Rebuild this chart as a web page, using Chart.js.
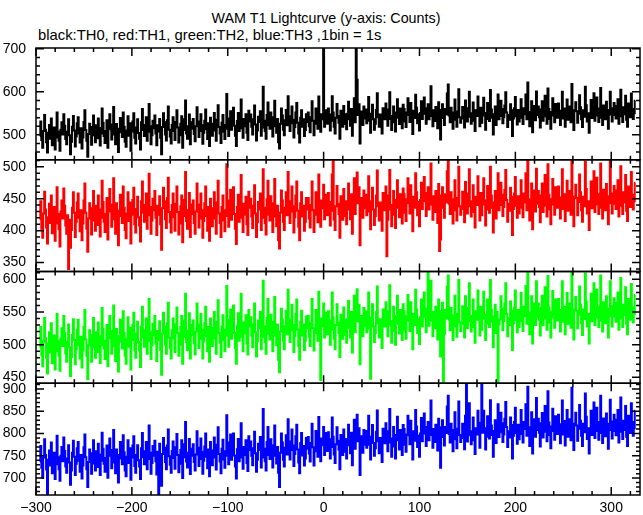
<!DOCTYPE html>
<html lang="en">
<head>
    <meta charset="UTF-8">
    <title>WAM T1 Lightcurve</title>
    <script src="https://cdn.jsdelivr.net/npm/chart.js"></script>
    <style>
        body {
            margin: 0;
            background: #fff;
        }

        .wrap {
            position: relative;
            width: 643px;
            height: 515px;
        }

        .title, .subtitle {
            position: absolute;
            font-family: "Liberation Sans", Arial, sans-serif;
            color: #000;
            white-space: nowrap;
            line-height: 1;
        }

        .title {
            left: 0;
            width: 652px;
            text-align: center;
            top: 11px;
            font-size: 14.3px;
        }

        .subtitle {
            left: 38px;
            top: 28px;
            font-size: 14.8px;
        }

        canvas {
            position: absolute;
            left: 0;
            top: 0;
        }
    </style>
</head>
<body>
    <div class="wrap">
        <div class="title">WAM T1 Lightcurve (y-axis: Counts)</div>
        <div class="subtitle">black:TH0, red:TH1, green:TH2, blue:TH3 ,1bin = 1s</div>
        <canvas id="lc" width="643" height="515"></canvas>
    </div>

    <script>
        // time of first bin (s), 1 bin = 1 s
        const tStart = -296;
        const binSize = 1;

        // TH0 (black) counts per bin
        const th0 = [
            497, 531, 488, 470, 509, 546, 512, 483, 459, 505, 523, 491, 538, 476, 501, 517, 466, 494, 552, 508,
            486, 463, 512, 529, 501, 548, 521, 490, 478, 507, 536, 499, 455, 484, 519, 544, 510, 473, 496, 527,
            541, 503, 482, 515, 468, 494, 530, 557, 511, 486, 449, 502, 526, 518, 477, 499, 545, 506, 483, 522,
            492, 538, 516, 475, 503, 561, 528, 497, 481, 509, 534, 470, 513, 548, 524, 489, 506, 565, 501, 478,
            525, 487, 460, 514, 539, 506, 495, 552, 519, 484, 472, 510, 543, 498, 527, 463, 508, 531, 550, 493,
            480, 517, 536, 504, 491, 466, 529, 560, 511, 497, 523, 541, 486, 507, 572, 520, 478, 499, 533, 515,
            545, 503, 476, 522, 508, 537, 493, 455, 518, 550, 529, 501, 487, 534, 566, 512, 496, 480, 523, 541,
            509, 488, 530, 557, 517, 482, 499, 526, 543, 470, 511, 536, 580, 503, 491, 520, 547, 478, 514, 529,
            537, 502, 485, 520, 564, 531, 495, 509, 548, 522, 479, 505, 533, 559, 513, 490, 527, 474, 540, 516,
            498, 526, 551, 510, 486, 535, 569, 518, 503, 481, 528, 546, 507, 490, 523, 595, 514, 497, 538, 555,
            512, 540, 563, 521, 498, 474, 532, 551, 509, 527, 582, 515, 493, 537, 520, 548, 505, 488, 556, 531,
            547, 519, 501, 536, 568, 524, 487, 510, 542, 530, 555, 498, 517, 612, 533, 509, 491, 546, 575, 522,
            514, 552, 529, 496, 541, 579, 520, 505, 537, 483, 468, 526, 561, 545, 512, 499, 534, 558, 522, 590,
            543, 509, 527, 566, 535, 494, 518, 552, 574, 528, 503, 482, 540, 557, 519, 536, 497, 511, 548, 530,
            552, 520, 506, 541, 578, 533, 499, 526, 561, 543, 514, 589, 530, 507, 548, 536, 745, 519, 557, 541,
            526, 561, 547, 510, 533, 590, 552, 519, 503, 540, 572, 544, 528, 491, 556, 534, 519, 567, 548, 525,
            513, 549, 577, 536, 521, 560, 498, 542, 585, 529, 740, 628, 546, 571, 480, 532, 554, 523, 566, 538,
            559, 527, 542, 588, 533, 505, 549, 570, 536, 512, 526, 558, 597, 541, 519, 547, 531, 503, 562, 550,
            536, 573, 548, 521, 559, 599, 537, 511, 544, 566, 529, 508, 552, 583, 540, 525, 561, 546, 515, 570,
            560, 531, 518, 552, 585, 546, 530, 574, 541, 502, 556, 539, 593, 563, 527, 548, 510, 551, 578, 537,
            549, 587, 562, 526, 540, 571, 536, 553, 613, 544, 520, 557, 532, 565, 547, 515, 576, 543, 489, 558,
            571, 539, 523, 560, 547, 596, 617, 545, 529, 563, 552, 514, 548, 582, 535, 519, 554, 606, 541, 528,
            538, 565, 553, 517, 580, 548, 531, 562, 600, 542, 526, 550, 575, 533, 509, 557, 544, 589, 561, 520,
            563, 528, 545, 586, 551, 512, 537, 574, 549, 532, 604, 559, 540, 501, 548, 566, 523, 555, 594, 536,
            544, 579, 560, 527, 541, 568, 599, 552, 518, 546, 535, 571, 557, 497, 538, 562, 588, 543, 524, 558,
            531, 554, 583, 540, 525, 562, 548, 594, 536, 622, 553, 520, 545, 578, 506, 550, 567, 534, 601, 546,
            566, 541, 517, 559, 578, 533, 550, 591, 543, 526, 608, 560, 537, 514, 553, 585, 545, 529, 572, 551,
            540, 573, 556, 523, 548, 600, 538, 561, 519, 547, 582, 535, 566, 552, 529, 618, 547, 511, 557, 576,
            555, 528, 549, 592, 564, 536, 518, 557, 542, 612, 569, 531, 550, 505, 546, 581, 539, 563, 597, 533,
            545, 587, 561, 530, 552, 609, 540, 523, 568, 551, 536, 577, 558, 514, 547, 600, 562, 531, 546, 574,
            567, 538, 552, 583, 526, 559, 605, 543, 530, 564, 548, 591, 535, 519, 573, 554, 541, 596, 560, 537,
            550, 579
        ];

        // TH1 (red)
        const th1 = [
            418, 446, 403, 389, 427, 461, 433, 405, 380, 421, 442, 412, 455, 396, 423, 437, 384, 411, 468, 426,
            402, 375, 430, 447, 419, 466, 439, 408, 395, 424, 340, 417, 373, 401, 436, 460, 428, 390, 414, 444,
            458, 420, 399, 432, 385, 411, 447, 474, 428, 403, 367, 419, 443, 435, 394, 416, 462, 423, 400, 439,
            409, 455, 433, 391, 420, 478, 445, 414, 398, 426, 451, 386, 430, 465, 441, 406, 423, 482, 418, 395,
            443, 404, 377, 431, 456, 423, 412, 469, 436, 401, 388, 427, 460, 415, 444, 380, 425, 448, 467, 410,
            397, 434, 453, 421, 408, 383, 446, 477, 428, 414, 440, 458, 403, 424, 489, 437, 395, 416, 450, 432,
            462, 420, 393, 439, 425, 454, 410, 370, 435, 467, 446, 418, 404, 451, 483, 429, 413, 397, 440, 458,
            421, 400, 442, 469, 429, 394, 411, 438, 455, 382, 423, 448, 492, 415, 403, 432, 459, 390, 426, 441,
            447, 412, 395, 430, 474, 441, 405, 419, 458, 432, 389, 415, 443, 469, 423, 400, 437, 384, 450, 426,
            407, 435, 460, 419, 395, 444, 478, 427, 412, 390, 437, 455, 416, 399, 432, 504, 423, 406, 447, 464,
            417, 445, 468, 426, 403, 379, 437, 456, 414, 432, 487, 420, 398, 442, 425, 453, 410, 393, 461, 436,
            450, 422, 404, 439, 471, 427, 390, 413, 445, 433, 458, 401, 420, 496, 436, 412, 394, 449, 478, 425,
            416, 454, 431, 398, 443, 481, 422, 407, 439, 385, 372, 428, 463, 447, 414, 401, 436, 460, 424, 492,
            446, 412, 430, 469, 438, 397, 421, 455, 477, 431, 406, 385, 443, 460, 422, 439, 400, 414, 451, 433,
            451, 419, 405, 440, 477, 432, 398, 425, 460, 442, 413, 488, 429, 406, 447, 435, 472, 418, 456, 440,
            424, 459, 445, 408, 431, 488, 511, 417, 401, 438, 470, 442, 426, 389, 454, 432, 417, 465, 446, 423,
            410, 446, 474, 433, 418, 457, 395, 439, 482, 426, 452, 491, 443, 468, 377, 429, 451, 420, 463, 435,
            456, 424, 439, 485, 430, 402, 446, 467, 433, 409, 423, 455, 494, 438, 416, 444, 428, 400, 459, 447,
            432, 469, 360, 417, 455, 495, 433, 407, 440, 462, 425, 404, 448, 479, 436, 421, 457, 442, 411, 466,
            457, 428, 415, 449, 482, 443, 427, 471, 438, 399, 453, 436, 490, 460, 424, 445, 407, 448, 475, 434,
            446, 484, 459, 423, 437, 468, 433, 450, 505, 441, 417, 454, 429, 462, 444, 412, 473, 368, 386, 455,
            468, 436, 420, 457, 444, 493, 509, 442, 426, 460, 449, 411, 445, 479, 432, 416, 451, 500, 438, 425,
            434, 461, 449, 413, 476, 444, 427, 458, 496, 438, 422, 446, 471, 429, 405, 453, 440, 485, 457, 416,
            459, 424, 441, 482, 447, 408, 433, 470, 445, 428, 500, 455, 436, 397, 444, 462, 419, 451, 490, 432,
            440, 475, 456, 423, 437, 464, 495, 448, 414, 442, 431, 467, 453, 393, 434, 458, 484, 439, 420, 454,
            427, 450, 479, 436, 421, 458, 444, 490, 432, 511, 449, 416, 441, 474, 402, 446, 463, 430, 497, 442,
            462, 437, 413, 455, 474, 429, 446, 487, 439, 422, 504, 456, 433, 410, 449, 481, 441, 425, 468, 447,
            436, 469, 452, 419, 444, 496, 434, 457, 415, 443, 478, 431, 462, 448, 425, 511, 443, 407, 453, 472,
            451, 424, 445, 488, 460, 432, 414, 453, 438, 508, 465, 427, 446, 401, 442, 477, 435, 459, 493, 429,
            441, 483, 457, 426, 448, 505, 436, 419, 464, 447, 432, 473, 454, 410, 443, 511, 458, 427, 442, 470,
            463, 434, 448, 479, 422, 455, 501, 439, 426, 460, 444, 487, 431, 415, 469, 450, 437, 492, 456, 433,
            446, 475
        ];

        // TH2 (green)
        const th2 = [
            496, 527, 484, 467, 505, 541, 510, 480, 456, 502, 519, 488, 533, 472, 498, 514, 462, 490, 547, 506,
            483, 460, 509, 525, 498, 544, 518, 487, 474, 504, 531, 496, 452, 481, 515, 539, 507, 470, 493, 523,
            538, 500, 479, 512, 465, 491, 527, 553, 508, 483, 447, 499, 522, 515, 474, 496, 541, 503, 480, 519,
            489, 534, 513, 472, 500, 556, 524, 494, 478, 506, 530, 467, 510, 544, 521, 486, 503, 560, 498, 475,
            524, 486, 459, 513, 538, 505, 494, 551, 518, 483, 471, 509, 542, 497, 526, 462, 507, 530, 549, 492,
            480, 517, 535, 504, 491, 466, 528, 558, 511, 497, 522, 540, 486, 506, 570, 519, 478, 499, 532, 514,
            544, 502, 475, 521, 507, 536, 492, 454, 517, 549, 528, 500, 486, 533, 564, 511, 495, 479, 522, 540,
            510, 489, 531, 557, 518, 483, 500, 527, 544, 471, 512, 537, 578, 504, 492, 521, 548, 479, 515, 530,
            537, 502, 485, 520, 563, 531, 495, 509, 547, 522, 479, 505, 533, 558, 513, 490, 527, 474, 540, 516,
            498, 526, 550, 510, 486, 535, 568, 518, 503, 481, 528, 545, 507, 490, 523, 590, 514, 497, 538, 554,
            509, 537, 560, 518, 495, 471, 529, 548, 506, 524, 578, 512, 490, 534, 517, 545, 502, 485, 553, 528,
            542, 514, 496, 531, 563, 519, 482, 505, 537, 525, 550, 493, 512, 598, 528, 504, 486, 541, 570, 517,
            508, 546, 523, 490, 535, 573, 514, 499, 531, 477, 458, 520, 555, 539, 506, 493, 528, 552, 516, 584,
            538, 504, 522, 561, 530, 489, 513, 547, 569, 523, 498, 477, 535, 552, 514, 531, 492, 506, 543, 525,
            544, 512, 498, 533, 570, 525, 491, 518, 553, 535, 506, 581, 522, 446, 540, 528, 563, 511, 549, 533,
            516, 551, 537, 500, 523, 580, 542, 509, 493, 530, 562, 534, 518, 481, 546, 524, 509, 557, 538, 515,
            503, 539, 567, 526, 511, 550, 488, 532, 575, 519, 546, 585, 536, 561, 470, 522, 544, 513, 556, 528,
            551, 519, 534, 580, 525, 448, 541, 562, 528, 504, 518, 550, 589, 533, 511, 539, 523, 495, 554, 542,
            528, 565, 540, 513, 551, 591, 529, 503, 536, 558, 521, 500, 544, 575, 532, 517, 553, 538, 507, 562,
            551, 522, 509, 543, 576, 537, 521, 565, 532, 493, 547, 530, 584, 554, 518, 539, 501, 542, 569, 528,
            542, 580, 555, 519, 533, 610, 529, 546, 598, 537, 513, 550, 525, 558, 540, 508, 569, 536, 482, 551,
            564, 443, 516, 553, 540, 589, 606, 538, 522, 556, 545, 507, 541, 575, 528, 512, 547, 599, 534, 521,
            532, 559, 547, 511, 574, 542, 525, 556, 594, 536, 520, 544, 569, 527, 503, 551, 538, 583, 555, 514,
            558, 523, 540, 581, 546, 507, 532, 569, 544, 527, 599, 554, 535, 496, 543, 561, 518, 550, 442, 531,
            539, 574, 555, 522, 536, 563, 594, 547, 513, 541, 530, 566, 552, 492, 533, 557, 583, 538, 519, 553,
            527, 550, 579, 536, 521, 558, 544, 590, 532, 612, 549, 516, 541, 574, 502, 546, 563, 530, 597, 542,
            563, 538, 514, 556, 575, 530, 547, 588, 540, 523, 605, 557, 534, 511, 550, 582, 542, 526, 569, 548,
            537, 570, 553, 520, 545, 597, 535, 558, 516, 544, 579, 532, 563, 549, 526, 611, 544, 508, 554, 573,
            552, 525, 546, 589, 561, 533, 515, 554, 539, 609, 566, 528, 547, 502, 543, 578, 536, 560, 594, 530,
            542, 584, 558, 527, 549, 606, 537, 520, 565, 548, 533, 574, 555, 511, 544, 597, 559, 528, 543, 571,
            564, 535, 549, 580, 523, 556, 602, 540, 527, 561, 545, 588, 532, 516, 570, 551, 538, 593, 557, 534,
            547, 576
        ];

        // TH3 (blue)
        const th3 = [
            737, 772, 723, 701, 746, 787, 752, 719, 664, 741, 762, 728, 780, 711, 739, 757, 698, 731, 795, 747,
            720, 694, 750, 770, 738, 791, 761, 726, 712, 744, 774, 735, 685, 717, 757, 784, 748, 707, 732, 767,
            781, 739, 714, 752, 699, 728, 769, 798, 747, 720, 680, 736, 764, 756, 710, 733, 785, 743, 717, 760,
            725, 777, 753, 707, 739, 802, 766, 732, 714, 745, 773, 701, 750, 789, 763, 722, 742, 808, 735, 711,
            764, 720, 690, 752, 781, 744, 731, 796, 758, 717, 704, 748, 785, 734, 767, 696, 746, 773, 794, 727,
            712, 752, 774, 740, 726, 698, 767, 801, 747, 731, 760, 781, 720, 743, 818, 757, 710, 734, 772, 750,
            784, 738, 708, 759, 663, 777, 727, 683, 754, 790, 768, 736, 720, 773, 809, 749, 730, 712, 761, 782,
            745, 721, 769, 799, 752, 713, 732, 763, 785, 700, 747, 776, 826, 737, 724, 757, 788, 709, 750, 766,
            776, 736, 717, 753, 805, 768, 727, 743, 789, 759, 710, 739, 771, 800, 748, 722, 764, 704, 781, 751,
            729, 762, 791, 746, 719, 775, 814, 754, 737, 711, 766, 786, 742, 723, 760, 841, 750, 731, 780, 798,
            741, 773, 800, 751, 726, 699, 765, 788, 738, 759, 823, 746, 721, 770, 752, 785, 734, 716, 794, 763,
            782, 750, 729, 767, 804, 756, 714, 741, 777, 763, 792, 724, 746, 855, 766, 738, 717, 781, 815, 752,
            743, 787, 761, 724, 774, 818, 750, 733, 770, 712, 680, 757, 800, 780, 741, 726, 768, 796, 753, 832,
            782, 742, 763, 809, 773, 727, 754, 794, 820, 764, 735, 711, 778, 801, 751, 772, 728, 744, 790, 766,
            792, 755, 737, 779, 822, 769, 728, 760, 806, 782, 748, 837, 766, 738, 789, 774, 815, 752, 801, 778,
            761, 803, 787, 744, 770, 836, 793, 753, 734, 776, 814, 784, 764, 720, 797, 770, 752, 809, 788, 759,
            744, 787, 820, 774, 756, 802, 729, 780, 831, 766, 797, 842, 783, 812, 707, 768, 794, 757, 808, 775,
            806, 768, 786, 840, 775, 742, 793, 819, 779, 750, 767, 804, 852, 783, 756, 790, 771, 736, 811, 795,
            778, 823, 793, 760, 805, 855, 780, 748, 789, 815, 771, 744, 797, 838, 785, 764, 808, 790, 752, 819,
            810, 775, 759, 798, 840, 796, 776, 829, 791, 742, 805, 784, 853, 816, 770, 795, 748, 800, 835, 783,
            800, 845, 815, 772, 788, 826, 785, 806, 874, 797, 768, 810, 781, 820, 799, 762, 833, 795, 723, 814,
            830, 792, 773, 815, 801, 861, 885, 799, 780, 822, 808, 760, 803, 848, 787, 767, 811, 872, 797, 781,
            790, 822, 808, 765, 840, 912, 782, 818, 868, 796, 776, 805, 836, 785, 754, 812, 798, 851, 821, 768,
            824, 910, 802, 851, 812, 764, 793, 839, 809, 789, 875, 818, 797, 748, 806, 830, 779, 814, 866, 792,
            803, 847, 823, 781, 798, 833, 871, 815, 770, 805, 791, 836, 819, 744, 795, 826, 858, 801, 777, 820,
            787, 816, 853, 799, 780, 826, 810, 866, 795, 905, 814, 772, 806, 848, 755, 811, 832, 793, 880, 808,
            833, 802, 771, 823, 846, 791, 812, 862, 804, 783, 895, 825, 797, 767, 816, 856, 806, 786, 839, 814,
            799, 842, 821, 778, 810, 874, 798, 828, 773, 808, 853, 793, 832, 815, 785, 903, 808, 763, 822, 847,
            818, 784, 811, 864, 829, 795, 772, 822, 803, 890, 838, 788, 812, 755, 807, 851, 797, 827, 870, 790,
            806, 858, 826, 786, 815, 885, 801, 779, 834, 813, 794, 845, 822, 766, 808, 876, 827, 789, 806, 842,
            831, 796, 813, 853, 780, 824, 881, 804, 788, 829, 808, 862, 793, 772, 840, 817, 801, 868, 826, 795,
            812, 851
        ];

        // axis ranges and labelled ticks
        const xRange = [-300, 330];
        const xTicks = [-300, -200, -100, 0, 100, 200, 300];
        const th0Range = [442, 702], th0Ticks = [500, 600, 700];
        const th1Range = [336, 511], th1Ticks = [350, 400, 450, 500];
        const th2Range = [441, 612], th2Ticks = [450, 500, 550, 600];
        const th3Range = [662, 913], th3Ticks = [700, 750, 800, 850, 900];

        const tickFont = { family: "'Liberation Sans', Arial, sans-serif", size: 14 };
        const fmt = v => (v < 0 ? '\u2212' + Math.abs(v) : String(v));
        const toPoints = arr => arr.map((v, i) => ({ x: tStart + i * binSize, y: v }));

        function panelScale(range, ticks, minor) {
            return {
                type: 'linear',
                position: 'left',
                stack: 'panels',
                stackWeight: 1,
                min: range[0],
                max: range[1],
                minorStep: minor,
                grid: { display: false, drawTicks: false },
                border: { display: false },
                ticks: { color: '#000', font: tickFont, padding: 10, autoSkip: false, includeBounds: false, callback: fmt },
                afterBuildTicks: s => { s.ticks = ticks.map(v => ({ value: v })); },
                afterFit: s => { s.width = 36; }
            };
        }

        // IDL style boxes: ticks pointing inward on all four sides, each panel clipped to itself
        const idlFrame = {
            id: 'idlFrame',
            beforeDatasetDraw(chart, args) {
                const ys = chart.scales[chart.data.datasets[args.index].yAxisID];
                const ca = chart.chartArea;
                chart.ctx.save();
                chart.ctx.beginPath();
                chart.ctx.rect(ca.left, ys.top, ca.right - ca.left, ys.bottom - ys.top);
                chart.ctx.clip();
            },
            afterDatasetDraw(chart) {
                chart.ctx.restore();
            },
            afterDraw(chart) {
                const ctx = chart.ctx;
                const ca = chart.chartArea;
                const xs = chart.scales.x;
                ctx.save();
                ctx.strokeStyle = '#000';
                ctx.lineWidth = 1.5;
                ['y0', 'y1', 'y2', 'y3'].forEach(id => {
                    const s = chart.scales[id];
                    const top = s.top, bot = s.bottom;
                    ctx.strokeRect(ca.left, top, ca.right - ca.left, bot - top);
                    ctx.beginPath();
                    // x ticks
                    for (let v = -300; v <= xRange[1]; v += 20) {
                        const px = xs.getPixelForValue(v);
                        const len = v % 100 === 0 ? 8 : 4;
                        ctx.moveTo(px, bot); ctx.lineTo(px, bot - len);
                        ctx.moveTo(px, top); ctx.lineTo(px, top + len);
                    }
                    // y ticks
                    const m = s.options.minorStep;
                    for (let v = Math.ceil(s.min / m) * m; v <= s.max; v += m) {
                        const py = s.getPixelForValue(v);
                        const major = s.ticks.some(t => t.value === v);
                        const len = major ? 8 : 4;
                        ctx.moveTo(ca.left, py); ctx.lineTo(ca.left + len, py);
                        ctx.moveTo(ca.right, py); ctx.lineTo(ca.right - len, py);
                    }
                    ctx.stroke();
                });
                ctx.restore();
            }
        };

        function series(data, color, axis) {
            return {
                data: toPoints(data),
                yAxisID: axis,
                borderColor: color,
                borderWidth: 2,
                stepped: 'middle',
                pointRadius: 0,
                fill: false
            };
        }

        new Chart(document.getElementById('lc'), {
            type: 'line',
            data: {
                datasets: [
                    series(th0, '#000000', 'y0'),
                    series(th1, '#ff0000', 'y1'),
                    series(th2, '#00ff00', 'y2'),
                    series(th3, '#0000ff', 'y3')
                ]
            },
            options: {
                responsive: false,
                animation: false,
                normalized: true,
                layout: { padding: { top: 48, right: 3, left: 0, bottom: 0 } },
                plugins: { legend: { display: false }, tooltip: { enabled: false } },
                scales: {
                    x: {
                        type: 'linear',
                        min: xRange[0],
                        max: xRange[1],
                        grid: { display: false, drawTicks: false },
                        border: { display: false },
                        ticks: { color: '#000', font: tickFont, padding: 5, autoSkip: false, maxRotation: 0, includeBounds: false, callback: fmt },
                        afterBuildTicks: s => { s.ticks = xTicks.map(v => ({ value: v })); },
                        afterFit: s => { s.height = 20; }
                    },
                    // first defined sits at the bottom of the stack
                    y3: panelScale(th3Range, th3Ticks, 10),
                    y2: panelScale(th2Range, th2Ticks, 10),
                    y1: panelScale(th1Range, th1Ticks, 10),
                    y0: panelScale(th0Range, th0Ticks, 20)
                }
            },
            plugins: [idlFrame]
        });
    </script>
</body>
</html>
